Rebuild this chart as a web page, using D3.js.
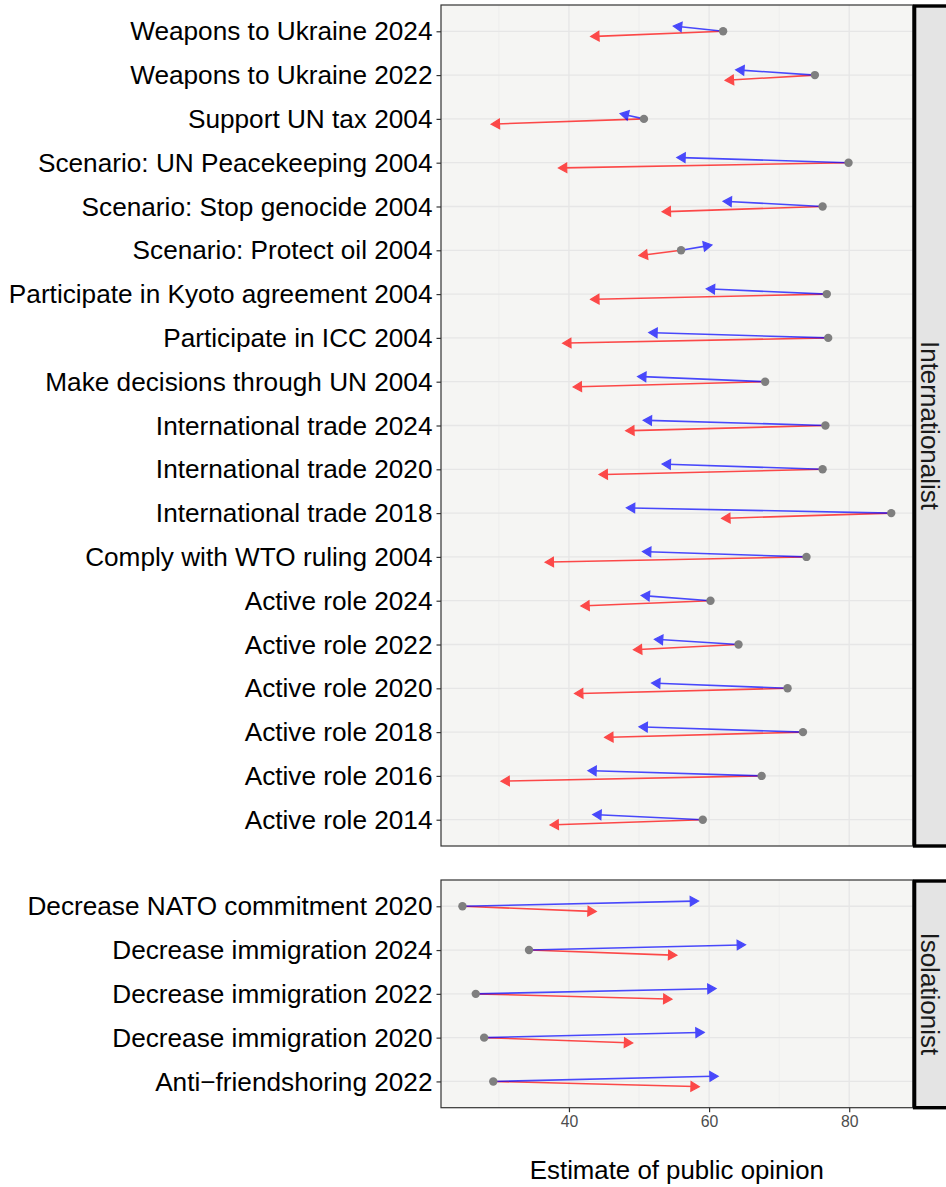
<!DOCTYPE html>
<html>
<head>
<meta charset="utf-8">
<script src="https://cdn.jsdelivr.net/npm/d3@7"></script>
<style>
  html, body { margin: 0; padding: 0; background: #ffffff; }
  svg { display: block; }
  text { font-family: "Liberation Sans", Arial, Helvetica, sans-serif; }
</style>
</head>
<body>
<svg id="chart" width="946" height="1187"></svg>
<script>
// Internationalist items, top to bottom
const itemsInternationalist = [
  "Weapons to Ukraine 2024",
  "Weapons to Ukraine 2022",
  "Support UN tax 2004",
  "Scenario: UN Peacekeeping 2004",
  "Scenario: Stop genocide 2004",
  "Scenario: Protect oil 2004",
  "Participate in Kyoto agreement 2004",
  "Participate in ICC 2004",
  "Make decisions through UN 2004",
  "International trade 2024",
  "International trade 2020",
  "International trade 2018",
  "Comply with WTO ruling 2004",
  "Active role 2024",
  "Active role 2022",
  "Active role 2020",
  "Active role 2018",
  "Active role 2016",
  "Active role 2014"
];
const actualInternationalist = [62.0, 75.1, 50.7, 79.9, 76.2, 56.0, 76.8, 77.0, 68.0, 76.6, 76.2, 86.0, 73.9, 60.2, 64.2, 71.2, 73.4, 67.5, 59.1];
const blueInternationalist   = [54.9, 63.8, 47.3, 55.4, 62.0, 60.4, 59.6, 51.4, 49.8, 50.6, 53.3, 48.2, 50.5, 50.3, 52.2, 51.8, 50.0, 42.7, 43.4];
const redInternationalist    = [43.1, 62.3, 28.9, 38.5, 53.3, 50.0, 43.1, 39.1, 40.6, 48.1, 44.3, 61.8, 36.6, 41.7, 49.2, 40.8, 45.1, 30.3, 37.3];

// Isolationist items, top to bottom
const itemsIsolationist = [
  "Decrease NATO commitment 2020",
  "Decrease immigration 2024",
  "Decrease immigration 2022",
  "Decrease immigration 2020",
  "Anti\u2212friendshoring 2022"
];
const actualIsolationist = [24.8, 34.3, 26.7, 27.9, 29.2];
const blueIsolationist   = [58.5, 65.2, 61.0, 59.3, 61.3];
const redIsolationist    = [43.9, 55.4, 54.7, 49.1, 58.6];

const xTicks = [40, 60, 80];
const xMinorTicks = [30, 50, 70];
const facetLabels = ["Internationalist", "Isolationist"];
const xTitle = "Estimate of public opinion";

// ---- build facets ----
function rows(items, actual, blue, red) {
  return items.map((label, i) => ({ label, actual: actual[i], blue: blue[i], red: red[i] }));
}
const facets = [
  { name: facetLabels[0], data: rows(itemsInternationalist, actualInternationalist, blueInternationalist, redInternationalist), top: 5, bottom: 846 },
  { name: facetLabels[1], data: rows(itemsIsolationist, actualIsolationist, blueIsolationist, redIsolationist), top: 880, bottom: 1107.7 }
];

const svg = d3.select("#chart");
const panelLeft = 441, panelRight = 912.7;

// shared x scale with 5% expansion either side
const allVals = facets.flatMap(f => f.data.flatMap(d => [d.actual, d.blue, d.red]));
const [lo, hi] = d3.extent(allVals);
const pad = (hi - lo) * 0.05;
const x = d3.scaleLinear().domain([lo - pad, hi + pad]).range([panelLeft, panelRight]);

const BLUE = "#0000ff", RED = "#ff0000";

function arrow(g, x1, y1, x2, y2, color) {
  const ang = Math.atan2(y2 - y1, x2 - x1);
  const len = 9.6, half = Math.PI / 6;
  const back = len * Math.cos(half);
  const g2 = g.append("g").attr("opacity", 0.7);
  g2.append("line")
    .attr("x1", x1).attr("y1", y1)
    .attr("x2", x2 - Math.cos(ang) * back * 0.6).attr("y2", y2 - Math.sin(ang) * back * 0.6)
    .attr("stroke", color).attr("stroke-width", 1.6);
  const p1 = [x2 - len * Math.cos(ang - half), y2 - len * Math.sin(ang - half)];
  const p2 = [x2 - len * Math.cos(ang + half), y2 - len * Math.sin(ang + half)];
  g2.append("path")
    .attr("d", `M${x2},${y2}L${p1[0]},${p1[1]}L${p2[0]},${p2[1]}Z`)
    .attr("fill", color).attr("stroke", color).attr("stroke-width", 1.2)
    .attr("stroke-linejoin", "miter");
}

facets.forEach((f, fi) => {
  const y = d3.scalePoint().domain(f.data.map(d => d.label)).range([f.top, f.bottom]).padding(0.6);
  const off = y.step() * 0.12;
  const g = svg.append("g");

  // panel background
  g.append("rect").attr("x", panelLeft).attr("y", f.top)
    .attr("width", panelRight - panelLeft).attr("height", f.bottom - f.top)
    .attr("fill", "#f5f5f3");

  // grid
  g.selectAll(".gminor").data(xMinorTicks).join("line")
    .attr("x1", d => x(d)).attr("x2", d => x(d)).attr("y1", f.top).attr("y2", f.bottom)
    .attr("stroke", "#ebebeb").attr("stroke-width", 0.8);
  g.selectAll(".gmajor").data(xTicks).join("line")
    .attr("x1", d => x(d)).attr("x2", d => x(d)).attr("y1", f.top).attr("y2", f.bottom)
    .attr("stroke", "#e6e6e6").attr("stroke-width", 1.3);
  g.selectAll(".gy").data(f.data).join("line")
    .attr("x1", panelLeft).attr("x2", panelRight)
    .attr("y1", d => y(d.label)).attr("y2", d => y(d.label))
    .attr("stroke", "#e6e6e6").attr("stroke-width", 1.3);

  // arrows: red then blue, from actual to estimates
  f.data.forEach(d => {
    const yc = y(d.label);
    arrow(g, x(d.actual), yc, x(d.red), yc + off, RED);
    arrow(g, x(d.actual), yc, x(d.blue), yc - off, BLUE);
  });

  // actual values
  g.selectAll(".pt").data(f.data).join("circle")
    .attr("cx", d => x(d.actual)).attr("cy", d => y(d.label)).attr("r", 4.2)
    .attr("fill", "#7f7f7f");

  // panel border
  g.append("rect").attr("x", panelLeft).attr("y", f.top)
    .attr("width", panelRight - panelLeft).attr("height", f.bottom - f.top)
    .attr("fill", "none").attr("stroke", "#333333").attr("stroke-width", 1.2);

  // y axis
  const yAxis = d3.axisLeft(y).tickSize(4.5).tickPadding(4);
  const ya = g.append("g").attr("transform", `translate(${panelLeft},0)`).call(yAxis);
  ya.select(".domain").remove();
  ya.selectAll(".tick line").attr("stroke", "#333333").attr("stroke-width", 1.2);
  ya.selectAll(".tick text").attr("fill", "#000000").attr("font-size", 26.2)
    .attr("font-family", "Liberation Sans, Arial, sans-serif").attr("dy", "0.33em");

  // strip
  const stripX = 914.6;
  g.append("rect").attr("x", stripX).attr("y", f.top + 1)
    .attr("width", 40).attr("height", f.bottom - f.top - 1)
    .attr("fill", "#e4e4e4").attr("stroke", "#000000").attr("stroke-width", 3.4);
  g.append("text")
    .attr("transform", `translate(${930},${(f.top + f.bottom) / 2}) rotate(90)`)
    .attr("text-anchor", "middle").attr("dy", "0.35em")
    .attr("font-size", 26).attr("fill", "#1a1a1a")
    .text(f.name);

  // x axis on bottom facet only
  if (fi === facets.length - 1) {
    const xAxis = d3.axisBottom(x).tickValues(xTicks).tickSize(4.5).tickPadding(4);
    const xa = g.append("g").attr("transform", `translate(0,${f.bottom})`).call(xAxis);
    xa.select(".domain").remove();
    xa.selectAll(".tick line").attr("stroke", "#333333").attr("stroke-width", 1.2);
    xa.selectAll(".tick text").attr("fill", "#4d4d4d").attr("font-size", 15.8)
      .attr("font-family", "Liberation Sans, Arial, sans-serif");
  }
});

// x axis title
svg.append("text")
  .attr("x", (panelLeft + panelRight) / 2).attr("y", 1179)
  .attr("text-anchor", "middle").attr("font-size", 25.8).attr("fill", "#000000")
  .text(xTitle);
</script>
</body>
</html>
